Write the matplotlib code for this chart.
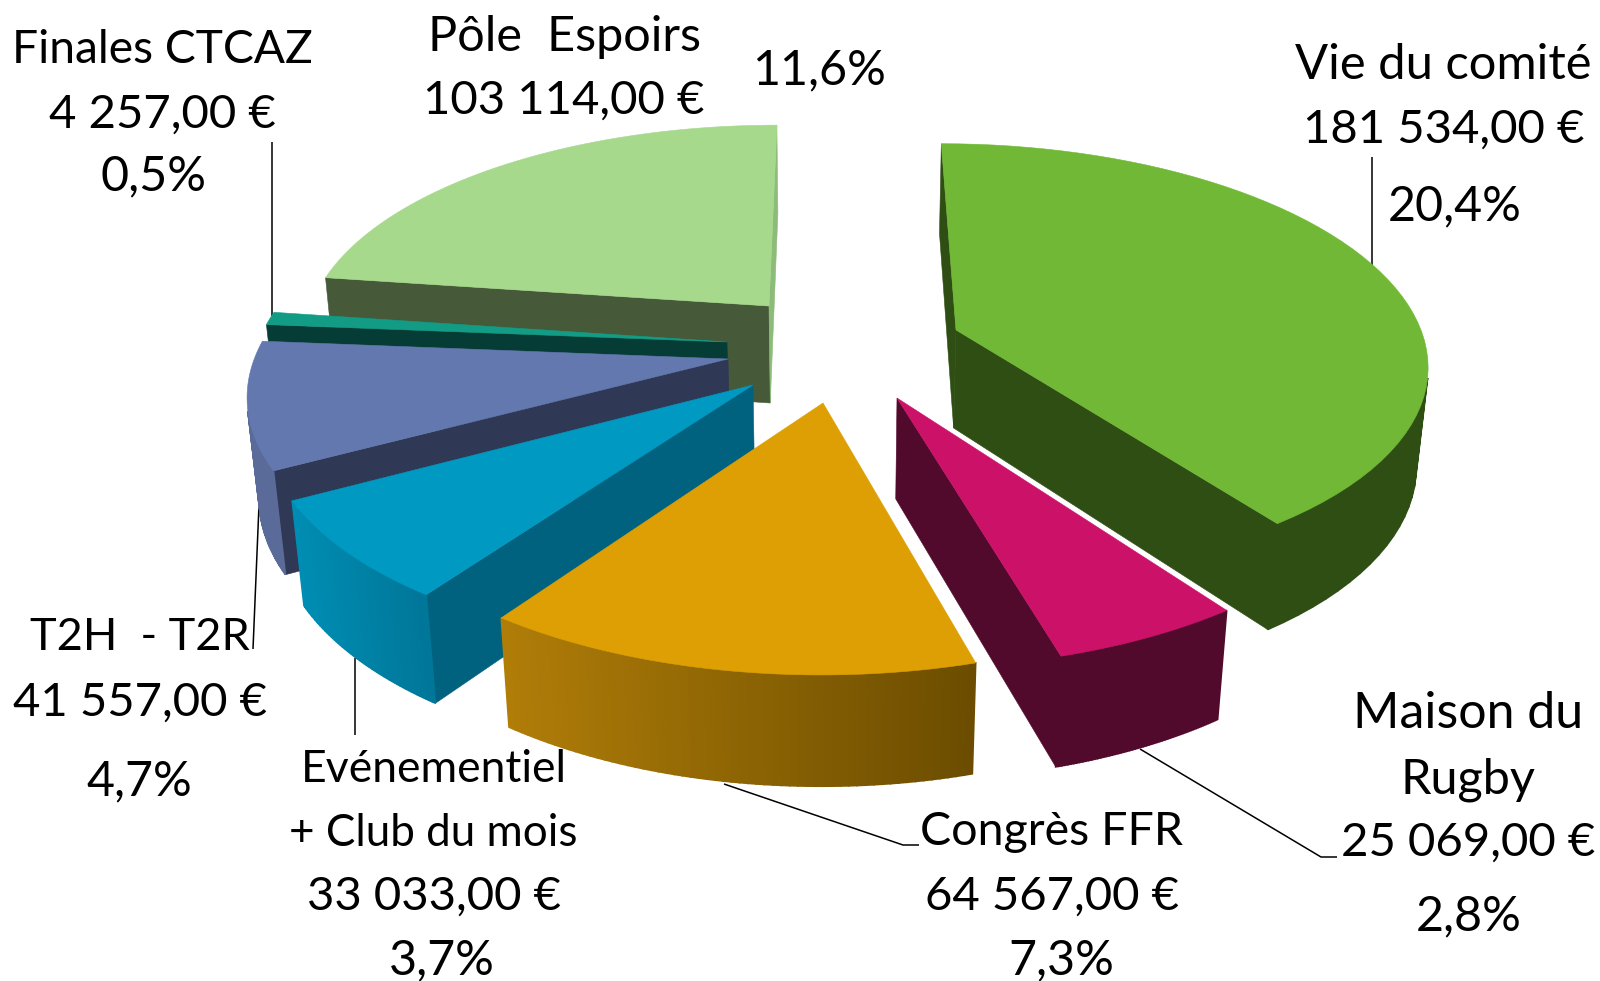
#!/usr/bin/env python3
import numpy as np
import matplotlib
matplotlib.use('Agg')
import matplotlib.pyplot as plt
from matplotlib.patches import Polygon
from matplotlib.colors import to_rgb

plt.rcParams['font.family'] = ['Lato', 'DejaVu Sans']

# ── données ──────────────────────────────────────────────────────────────
names   = ['Vie du comité', 'Maison du Rugby', 'Congrès FFR', 'Evénementiel + Club du mois',
           'T2H - T2R', 'Finales CTCAZ', 'Pôle Espoirs']
amounts = [181534, 25069, 64567, 33033, 41557, 4257, 103114]
percent = ['20,4%', '2,8%', '7,3%', '3,7%', '4,7%', '0,5%', '11,6%']

# ── style ────────────────────────────────────────────────────────────────
top_col   = ['#70B835', '#CC1268', '#DD9F03', '#0099C2', '#6478B0', '#139C85', '#A6D98C']
wall_a    = ['#2E4E14', '#520A2C', '#6B4C00', '#00627F', '#2F3854', '#063C36', '#465939']  # bord début
wall_b    = ['#2E4E14', '#520A2C', '#6B4C00', '#00627F', '#2F3854', '#063C36', '#8DBB79']  # bord fin
rim_left  = ['#2E4E14', '#520A2C', '#B07D08', '#008DB3', '#5A6A99', '#063C36', '#465939']
rim_right = ['#2E4E14', '#520A2C', '#6B4C00', '#007698', '#5A6A99', '#063C36', '#465939']
# décalage de chaque part (pixels écran depuis le centre)
shift_px  = [(121, 0), (62, 68), (-12, 73), (-82, 55), (-107, 29), (-108, 12), (-66, -24)]

CX, CY = 835, 330
A, B, H = 465, 212, 100      # demi-axes et épaisseur
K, M = 0.138, 0.02           # perspective
ROT = 0.0                    # angle de départ


def project(x, y, d=0.0):
    s = 1.0 / (1.0 - K * y + M * d)
    return CX + A * x * s, CY + (B * y + H * d) * s


def unproject(dx, dy):
    y = dy / (B + K * dy)
    s = 1.0 / (1.0 - K * y)
    return dx / (A * s), y


def shoelace(p):
    p = np.asarray(p)
    x, y = p[:, 0], p[:, 1]
    return 0.5 * np.sum(x * np.roll(y, -1) - np.roll(x, -1) * y)


def mix(c1, c2, t):
    a, b = np.array(to_rgb(c1)), np.array(to_rgb(c2))
    return tuple(a + (b - a) * t)


fig = plt.figure(figsize=(16, 9.81), dpi=100, facecolor='white')
ax = fig.add_axes([0, 0, 1, 1])
ax.set_xlim(0, 1600)
ax.set_ylim(981, 0)
ax.axis('off')


def face(pts, col, z, lw=0.4):
    ax.add_patch(Polygon(pts, closed=True, facecolor=col, edgecolor=col, lw=lw, zorder=z))


spans = np.array(amounts) / sum(amounts) * 360
starts = ROT + np.concatenate([[0], np.cumsum(spans)[:-1]])
order = sorted(range(len(amounts)), key=lambda i: -np.cos(np.radians(starts[i] + spans[i] / 2)))

for z, i in enumerate(order):
    ex, ey = unproject(*shift_px[i])
    th = np.radians(np.linspace(starts[i], starts[i] + spans[i], 60))
    rx, ry = ex + np.sin(th), ey - np.cos(th)
    rim_t = [project(a, b) for a, b in zip(rx, ry)]
    rim_b = [project(a, b, 1) for a, b in zip(rx, ry)]
    ap_t, ap_b = project(ex, ey), project(ex, ey, 1)

    zz = 2 + z * 2
    # faces radiales
    q = [ap_t, rim_t[0], rim_b[0], ap_b]
    if shoelace(q) < 0:
        face(q, wall_a[i], zz)
    q = [rim_t[-1], ap_t, ap_b, rim_b[-1]]
    if shoelace(q) < 0:
        face(q, wall_b[i], zz)
    # paroi extérieure en bandes
    xs = [p[0] for p in rim_t]
    x0, x1 = min(xs), max(xs)
    for j in range(len(th) - 1):
        q = [rim_t[j], rim_t[j + 1], rim_b[j + 1], rim_b[j]]
        if shoelace(q) < 0:
            t = ((xs[j] + xs[j + 1]) / 2 - x0) / max(x1 - x0, 1)
            face(q, mix(rim_left[i], rim_right[i], t), zz, lw=1.2)
    face([ap_t] + rim_t, top_col[i], zz + 1)

# ── lignes de rappel ─────────────────────────────────────────────────────
leaders = [
    [(1372, 157), (1372, 268)],
    [(1140, 749), (1321, 857), (1337, 857)],
    [(724, 784), (903, 845), (919, 845)],
    [(355, 658), (355, 735)],
    [(259, 505), (253, 649)],
    [(272, 142), (272, 316)],
]
for pts in leaders:
    xs, ys = zip(*pts)
    ax.plot(xs, ys, color='black', lw=1.1, zorder=1, solid_capstyle='butt')


# ── textes ───────────────────────────────────────────────────────────────
def euro(v):
    return f'{v:,.2f}'.replace(',', ' ').replace('.', ',') + ' €'


NUM, PCT = 34, 34.8
labels = [
    ('Finales CTCAZ', 162, 50, 33.2), (euro(amounts[5]), 162, 115, NUM), (percent[5], 154, 176, PCT),
    ('Pôle  Espoirs', 564, 37, 35), (euro(amounts[6]), 564, 101, NUM), (percent[6], 819, 70, PCT),
    ('Vie du comité', 1443, 65, 35.2), (euro(amounts[0]), 1444, 130, NUM), (percent[0], 1455, 206, PCT),
    ('Maison du', 1468, 714, 36), ('Rugby', 1468, 780, 35), (euro(amounts[1]), 1468, 843, NUM), (percent[1], 1469, 916, PCT),
    ('Congrès FFR', 1051, 832, 33.5), (euro(amounts[2]), 1052, 897, NUM), (percent[2], 1061, 960, PCT),
    ('Evénementiel', 434, 769, 32), ('+ Club du mois', 433, 834, 31.7), (euro(amounts[3]), 434, 897, NUM), (percent[3], 442, 960, PCT),
    ('T2H  - T2R', 140, 638, 32.5), (euro(amounts[4]), 140, 703, NUM), (percent[4], 139, 781, PCT),
]
for s, x, y, fs in labels:
    ax.text(x, y, s, ha='center', va='center', fontsize=fs, color='black', zorder=50)

fig.savefig('out.png', dpi=100)
plt.close(fig)
